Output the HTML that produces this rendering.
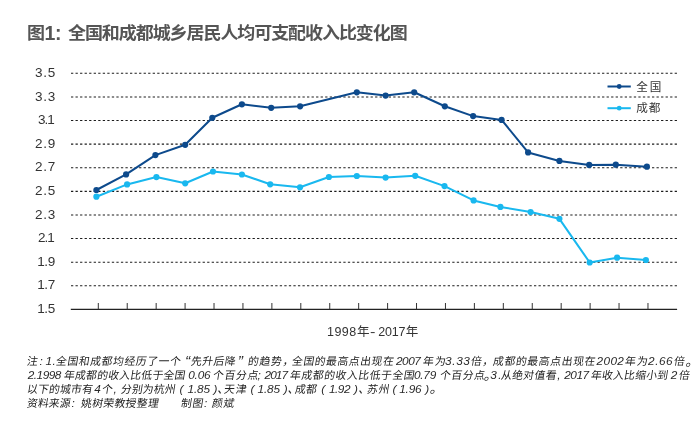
<!DOCTYPE html>
<html lang="zh"><head><meta charset="utf-8"><title>图1</title>
<style>
html,body{margin:0;padding:0;background:#fff;}
body{width:698px;height:431px;overflow:hidden;position:relative;font-family:"Liberation Sans","Noto Sans CJK SC",sans-serif;color:#333}
svg{position:absolute;left:0;top:0;display:block}
.x{position:absolute;white-space:nowrap;line-height:20px;height:20px;margin:0;padding:0}
.t{font-weight:bold;font-size:17px;color:#555}
.t1{font-weight:bold;font-size:19.5px;color:#555}
.yl{font-size:13.5px;color:#333}
.xl{font-size:12.5px;color:#333}
.lg{font-size:11.6px;color:#333}
.fn{font-size:11.8px;color:#2a2a2a;font-style:italic}
.fq{font-size:15.5px}
.fp{font-size:13.5px}
.fc{font-size:10.8px;color:#222;font-weight:400;transform:skewX(-9deg);transform-origin:0 11px}
</style></head><body>
<svg width="698" height="431" viewBox="0 0 698 431">
<rect width="698" height="431" fill="#fff"/>
<g stroke="#1c1c1c" stroke-width="1.05" stroke-dasharray="2.3 2.239" fill="none">
<path d="M70.98 73.30H677"/>
<path d="M70.98 96.91H677"/>
<path d="M70.98 120.52H677"/>
<path d="M70.98 144.13H677"/>
<path d="M70.98 167.74H677"/>
<path d="M70.98 191.35H677"/>
<path d="M70.98 214.96H677"/>
<path d="M70.98 238.57H677"/>
<path d="M70.98 262.18H677"/>
<path d="M70.98 285.79H677"/>
</g>
<path d="M70.8 309.4H677.1" stroke="#222" stroke-width="1.1" fill="none"/>
<path d="M98.30 303.00V309.40M127.23 303.00V309.40M156.16 303.00V309.40M185.09 303.00V309.40M214.02 303.00V309.40M242.95 303.00V309.40M271.88 303.00V309.40M300.81 303.00V309.40M329.74 303.00V309.40M358.67 303.00V309.40M387.60 303.00V309.40M416.53 303.00V309.40M445.46 303.00V309.40M474.39 303.00V309.40M503.32 303.00V309.40M532.25 303.00V309.40M561.18 303.00V309.40M590.11 303.00V309.40M619.04 303.00V309.40M647.97 303.00V309.40" stroke="#333" stroke-width="1" fill="none"/>
<polyline points="96.4,196.7 127.1,184.4 156.4,177.1 185.2,183.3 213.0,171.5 241.9,174.5 270.2,184.3 300.0,187.3 328.9,177.0 356.8,176.0 385.6,177.6 415.2,175.8 444.5,186.1 473.6,200.4 500.4,206.9 530.6,212.1 559.4,218.8 589.7,262.5 617.1,257.7 645.9,260.0" fill="none" stroke="#19b8ef" stroke-width="2.05" stroke-linejoin="round" stroke-linecap="round"/>
<g fill="#19b8ef"><circle cx="96.4" cy="196.7" r="3.1"/><circle cx="127.1" cy="184.4" r="3.1"/><circle cx="156.4" cy="177.1" r="3.1"/><circle cx="185.2" cy="183.3" r="3.1"/><circle cx="213.0" cy="171.5" r="3.1"/><circle cx="241.9" cy="174.5" r="3.1"/><circle cx="270.2" cy="184.3" r="3.1"/><circle cx="300.0" cy="187.3" r="3.1"/><circle cx="328.9" cy="177.0" r="3.1"/><circle cx="356.8" cy="176.0" r="3.1"/><circle cx="385.6" cy="177.6" r="3.1"/><circle cx="415.2" cy="175.8" r="3.1"/><circle cx="444.5" cy="186.1" r="3.1"/><circle cx="473.6" cy="200.4" r="3.1"/><circle cx="500.4" cy="206.9" r="3.1"/><circle cx="530.6" cy="212.1" r="3.1"/><circle cx="559.4" cy="218.8" r="3.1"/><circle cx="589.7" cy="262.5" r="3.1"/><circle cx="617.1" cy="257.7" r="3.1"/><circle cx="645.9" cy="260.0" r="3.1"/></g>
<polyline points="96.4,190.0 126.1,174.4 155.4,155.1 185.2,144.8 212.3,117.8 241.9,104.3 271.2,107.8 300.1,106.3 356.8,92.3 385.6,95.6 414.2,92.3 444.8,106.3 473.1,116.1 501.6,119.9 528.1,152.4 559.4,160.9 589.2,164.9 615.8,164.7 646.9,166.7" fill="none" stroke="#0d4a8c" stroke-width="2.05" stroke-linejoin="round" stroke-linecap="round"/>
<g fill="#0d4a8c"><circle cx="96.4" cy="190.0" r="3.1"/><circle cx="126.1" cy="174.4" r="3.1"/><circle cx="155.4" cy="155.1" r="3.1"/><circle cx="185.2" cy="144.8" r="3.1"/><circle cx="212.3" cy="117.8" r="3.1"/><circle cx="241.9" cy="104.3" r="3.1"/><circle cx="271.2" cy="107.8" r="3.1"/><circle cx="300.1" cy="106.3" r="3.1"/><circle cx="356.8" cy="92.3" r="3.1"/><circle cx="385.6" cy="95.6" r="3.1"/><circle cx="414.2" cy="92.3" r="3.1"/><circle cx="444.8" cy="106.3" r="3.1"/><circle cx="473.1" cy="116.1" r="3.1"/><circle cx="501.6" cy="119.9" r="3.1"/><circle cx="528.1" cy="152.4" r="3.1"/><circle cx="559.4" cy="160.9" r="3.1"/><circle cx="589.2" cy="164.9" r="3.1"/><circle cx="615.8" cy="164.7" r="3.1"/><circle cx="646.9" cy="166.7" r="3.1"/></g>
<path d="M607.5 86.5H630.8" stroke="#0d4a8c" stroke-width="2" fill="none"/><circle cx="619.2" cy="86.5" r="2.4" fill="#0d4a8c"/>
<path d="M607.5 108.2H630.8" stroke="#19b8ef" stroke-width="2" fill="none"/><circle cx="619.2" cy="108.2" r="2.4" fill="#19b8ef"/>
</svg>
<div class="x t" style="left:26.84px;top:24px;transform:scaleX(1.06);transform-origin:0 0;">图</div>
<div class="x t1" style="left:44.60px;top:23.2px;">1</div>
<div class="x t1" style="left:55.00px;top:23.2px;">:</div>
<div class="x t" style="left:68.34px;top:24px;letter-spacing:-1.027px;transform:scaleX(1.06);transform-origin:0 0;">全国和成都城乡居民人均可支配收入比变化图</div>
<div class="x yl" style="left:35.00px;top:62.9px;letter-spacing:0.800px;">3.5</div>
<div class="x yl" style="left:35.00px;top:86.51px;letter-spacing:0.800px;">3.3</div>
<div class="x yl" style="left:38.10px;top:110.12px;letter-spacing:-1.000px;">3.1</div>
<div class="x yl" style="left:35.00px;top:133.73px;letter-spacing:0.800px;">2.9</div>
<div class="x yl" style="left:35.00px;top:157.34px;letter-spacing:0.800px;">2.7</div>
<div class="x yl" style="left:35.00px;top:180.95px;letter-spacing:0.800px;">2.5</div>
<div class="x yl" style="left:35.00px;top:204.56px;letter-spacing:0.800px;">2.3</div>
<div class="x yl" style="left:38.10px;top:228.17px;letter-spacing:-1.000px;">2.1</div>
<div class="x yl" style="left:37.20px;top:251.78px;letter-spacing:-0.400px;">1.9</div>
<div class="x yl" style="left:37.20px;top:275.39px;letter-spacing:-0.400px;">1.7</div>
<div class="x yl" style="left:37.20px;top:299.0px;letter-spacing:-0.400px;">1.5</div>
<div class="x lg" style="left:636.30px;top:76.5px;letter-spacing:1.800px;">全国</div>
<div class="x lg" style="left:636.30px;top:97.5px;letter-spacing:0.800px;">成都</div>
<div class="x xl" style="left:327.10px;top:322px;letter-spacing:0.400px;">1998</div>
<div class="x xl" style="left:357.00px;top:322px;">年</div>
<div class="x xl" style="left:370.30px;top:322px;transform:scaleX(1.3);transform-origin:0 0;">-</div>
<div class="x xl" style="left:378.30px;top:322px;letter-spacing:-0.233px;">2017</div>
<div class="x xl" style="left:405.80px;top:322px;">年</div>
<div class="x fc" style="left:27.40px;top:351.1px;">注</div>
<div class="x fn" style="left:39.60px;top:351.1px;">:</div>
<div class="x fn" style="left:45.60px;top:351.1px;letter-spacing:0.300px;">1.</div>
<div class="x fc" style="left:56.10px;top:351.1px;letter-spacing:0.600px;">全国和成都均经历了一个</div>
<div class="x fn fq" style="left:185.00px;top:351.3px;">“</div>
<div class="x fc" style="left:190.60px;top:351.1px;letter-spacing:0.467px;">先升后降</div>
<div class="x fn fq" style="left:237.80px;top:351.3px;">”</div>
<div class="x fc" style="left:247.60px;top:351.1px;letter-spacing:0.700px;">的趋势</div>
<div class="x fn" style="left:281.90px;top:351.1px;">，</div>
<div class="x fc" style="left:291.80px;top:351.1px;letter-spacing:0.562px;">全国的最高点出现在</div>
<div class="x fn" style="left:395.90px;top:351.1px;letter-spacing:-0.400px;">2007</div>
<div class="x fc" style="left:422.50px;top:351.1px;letter-spacing:1.300px;">年为</div>
<div class="x fn" style="left:445.10px;top:351.1px;letter-spacing:0.600px;">3.33</div>
<div class="x fc" style="left:471.30px;top:351.1px;">倍</div>
<div class="x fn" style="left:481.80px;top:351.1px;">，</div>
<div class="x fc" style="left:493.10px;top:351.1px;letter-spacing:0.650px;">成都的最高点出现在</div>
<div class="x fn" style="left:596.60px;top:351.1px;letter-spacing:0.333px;">2002</div>
<div class="x fc" style="left:625.00px;top:351.1px;letter-spacing:1.200px;">年为</div>
<div class="x fn" style="left:648.10px;top:351.1px;letter-spacing:0.500px;">2.66</div>
<div class="x fc" style="left:674.00px;top:351.1px;">倍</div>
<div class="x fn fp" style="left:685.30px;top:351.6px;">。</div>
<div class="x fn" style="left:27.70px;top:365.0px;letter-spacing:-0.480px;">2.1998</div>
<div class="x fc" style="left:64.10px;top:365.0px;letter-spacing:0.250px;">年成都的收入比低于全国</div>
<div class="x fn" style="left:188.20px;top:365.0px;letter-spacing:-0.200px;">0.06</div>
<div class="x fc" style="left:212.90px;top:365.0px;letter-spacing:0.667px;">个百分点</div>
<div class="x fn" style="left:257.40px;top:365.0px;">;</div>
<div class="x fn" style="left:264.60px;top:365.0px;letter-spacing:-0.967px;">2017</div>
<div class="x fc" style="left:289.60px;top:365.0px;letter-spacing:0.580px;">年成都的收入比低于全国</div>
<div class="x fn" style="left:413.90px;top:365.0px;letter-spacing:-0.200px;">0.79</div>
<div class="x fc" style="left:439.50px;top:365.0px;letter-spacing:0.533px;">个百分点</div>
<div class="x fn fp" style="left:483.60px;top:365.5px;">。</div>
<div class="x fn" style="left:490.20px;top:365.0px;letter-spacing:1.600px;">3.</div>
<div class="x fc" style="left:501.20px;top:365.0px;letter-spacing:0.375px;">从绝对值看</div>
<div class="x fn" style="left:557.20px;top:365.0px;">,</div>
<div class="x fn" style="left:564.20px;top:365.0px;letter-spacing:-0.433px;">2017</div>
<div class="x fc" style="left:591.10px;top:365.0px;letter-spacing:0.233px;">年收入比缩小到</div>
<div class="x fn" style="left:670.80px;top:365.0px;">2</div>
<div class="x fc" style="left:679.10px;top:365.0px;">倍</div>
<div class="x fc" style="left:27.40px;top:378.9px;letter-spacing:0.200px;">以下的城市有</div>
<div class="x fn" style="left:94.30px;top:378.9px;">4</div>
<div class="x fc" style="left:101.90px;top:378.9px;">个</div>
<div class="x fn" style="left:113.50px;top:378.9px;">,</div>
<div class="x fc" style="left:121.10px;top:378.9px;letter-spacing:0.125px;">分别为杭州</div>
<div class="x fn" style="left:179.60px;top:378.9px;">(</div>
<div class="x fn" style="left:187.60px;top:378.9px;letter-spacing:-0.167px;">1.85</div>
<div class="x fn" style="left:213.40px;top:378.9px;">)</div>
<div class="x fn" style="left:217.00px;top:378.9px;">、</div>
<div class="x fc" style="left:224.40px;top:378.9px;letter-spacing:0.900px;">天津</div>
<div class="x fn" style="left:250.50px;top:378.9px;">(</div>
<div class="x fn" style="left:257.60px;top:378.9px;letter-spacing:-0.167px;">1.85</div>
<div class="x fn" style="left:283.70px;top:378.9px;">)</div>
<div class="x fn" style="left:287.30px;top:378.9px;">、</div>
<div class="x fc" style="left:295.30px;top:378.9px;letter-spacing:0.300px;">成都</div>
<div class="x fn" style="left:321.20px;top:378.9px;">(</div>
<div class="x fn" style="left:328.90px;top:378.9px;letter-spacing:-0.433px;">1.92</div>
<div class="x fn" style="left:354.10px;top:378.9px;">)</div>
<div class="x fn" style="left:358.10px;top:378.9px;">、</div>
<div class="x fc" style="left:366.70px;top:378.9px;letter-spacing:0.600px;">苏州</div>
<div class="x fn" style="left:392.40px;top:378.9px;">(</div>
<div class="x fn" style="left:399.20px;top:378.9px;letter-spacing:-0.167px;">1.96</div>
<div class="x fn" style="left:425.30px;top:378.9px;">)</div>
<div class="x fn fp" style="left:429.40px;top:379.4px;">。</div>
<div class="x fc" style="left:27.40px;top:392.8px;letter-spacing:0.100px;">资料来源</div>
<div class="x fn" style="left:71.40px;top:392.8px;">:</div>
<div class="x fc" style="left:81.20px;top:392.8px;letter-spacing:0.350px;">姚树荣教授整理</div>
<div class="x fc" style="left:180.70px;top:392.8px;letter-spacing:0.800px;">制图</div>
<div class="x fn" style="left:204.00px;top:392.8px;">:</div>
<div class="x fc" style="left:212.10px;top:392.8px;letter-spacing:0.800px;">颜斌</div>
</body></html>
